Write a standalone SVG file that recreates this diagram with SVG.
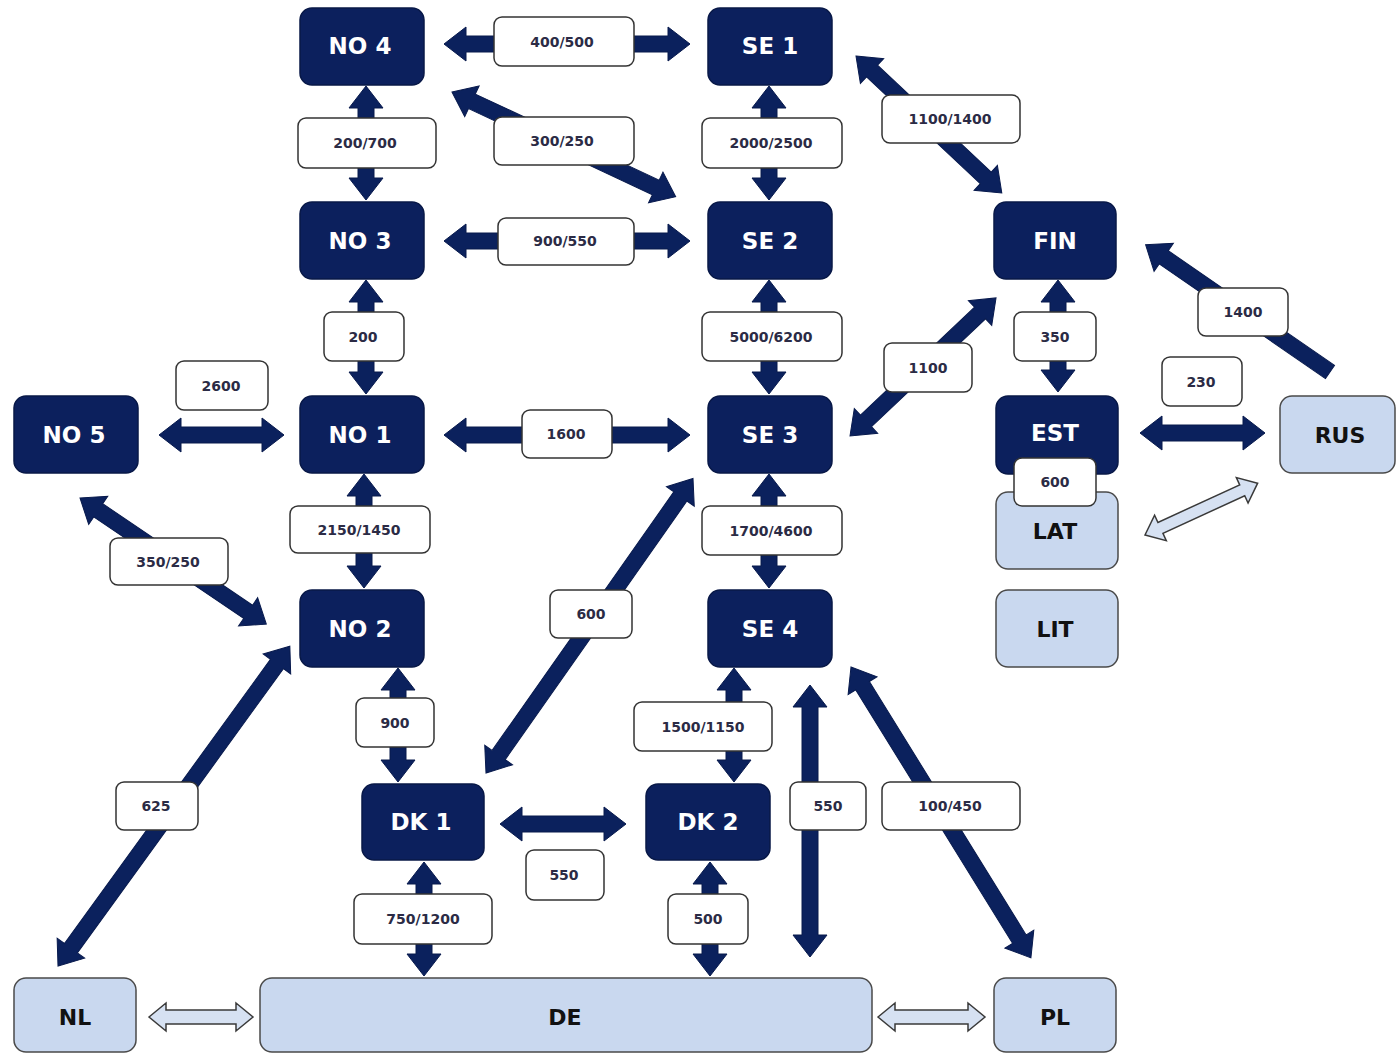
<svg xmlns="http://www.w3.org/2000/svg" width="1396" height="1053" viewBox="0 0 1396 1053">
<style>
.dn{fill:#0c205d;stroke:#081847;stroke-width:1.5}
.ln{fill:#c9d8ef;stroke:#4a4a4a;stroke-width:1.5}
.dt{font-family:"DejaVu Sans",Verdana,sans-serif;font-weight:bold;font-size:23px;fill:#ffffff;text-anchor:middle}
.lt{font-family:"DejaVu Sans",Verdana,sans-serif;font-weight:bold;font-size:22px;fill:#111111;text-anchor:middle}
.ar{fill:#0b215d;stroke:#081a4d;stroke-width:1}
.la{fill:#d6e1f2;stroke:#3a3a3a;stroke-width:1.5}
.lb{fill:#ffffff;stroke:#333333;stroke-width:1.5}
.lbt{font-family:"DejaVu Sans",Verdana,sans-serif;font-weight:bold;font-size:14px;fill:#2b2b45;text-anchor:middle}
</style>
<rect width="1396" height="1053" fill="#ffffff"/>
<g id="nodes">
<g id="NO4"><rect class="dn" x="300" y="8" width="124" height="77" rx="12"/><text class="dt" x="360" y="54">NO 4</text></g>
<g id="SE1"><rect class="dn" x="708" y="8" width="124" height="77" rx="12"/><text class="dt" x="770" y="54">SE 1</text></g>
<g id="NO3"><rect class="dn" x="300" y="202" width="124" height="77" rx="12"/><text class="dt" x="360" y="249">NO 3</text></g>
<g id="SE2"><rect class="dn" x="708" y="202" width="124" height="77" rx="12"/><text class="dt" x="770" y="249">SE 2</text></g>
<g id="FIN"><rect class="dn" x="994" y="202" width="122" height="77" rx="12"/><text class="dt" x="1055" y="249">FIN</text></g>
<g id="NO5"><rect class="dn" x="14" y="396" width="124" height="77" rx="12"/><text class="dt" x="74" y="443">NO 5</text></g>
<g id="NO1"><rect class="dn" x="300" y="396" width="124" height="77" rx="12"/><text class="dt" x="360" y="443">NO 1</text></g>
<g id="SE3"><rect class="dn" x="708" y="396" width="124" height="77" rx="12"/><text class="dt" x="770" y="443">SE 3</text></g>
<g id="EST"><rect class="dn" x="996" y="396" width="122" height="78" rx="12"/><text class="dt" x="1055" y="441">EST</text></g>
<g id="RUS"><rect class="ln" x="1280" y="396" width="115" height="77" rx="12"/><text class="lt" x="1340" y="443">RUS</text></g>
<g id="LAT"><rect class="ln" x="996" y="492" width="122" height="77" rx="12"/><text class="lt" x="1055" y="539">LAT</text></g>
<g id="LIT"><rect class="ln" x="996" y="590" width="122" height="77" rx="12"/><text class="lt" x="1055" y="637">LIT</text></g>
<g id="NO2"><rect class="dn" x="300" y="590" width="124" height="77" rx="12"/><text class="dt" x="360" y="637">NO 2</text></g>
<g id="SE4"><rect class="dn" x="708" y="590" width="124" height="77" rx="12"/><text class="dt" x="770" y="637">SE 4</text></g>
<g id="DK1"><rect class="dn" x="362" y="784" width="122" height="76" rx="12"/><text class="dt" x="421" y="830">DK 1</text></g>
<g id="DK2"><rect class="dn" x="646" y="784" width="124" height="76" rx="12"/><text class="dt" x="708" y="830">DK 2</text></g>
<g id="NL"><rect class="ln" x="14" y="978" width="122" height="74" rx="12"/><text class="lt" x="75" y="1025">NL</text></g>
<g id="DE"><rect class="ln" x="260" y="978" width="612" height="74" rx="12"/><text class="lt" x="565" y="1025">DE</text></g>
<g id="PL"><rect class="ln" x="994" y="978" width="122" height="74" rx="12"/><text class="lt" x="1055" y="1025">PL</text></g>
</g>
<g id="connectors">
<path class="ar" transform="translate(444,44)" d="M0,0 L22,-17 L22,-8 L224,-8 L224,-17 L246,0 L224,17 L224,8 L22,8 L22,17 Z"/>
<path class="ar" transform="translate(366,86) rotate(90)" d="M0,0 L22,-17 L22,-8 L92,-8 L92,-17 L114,0 L92,17 L92,8 L22,8 L22,17 Z"/>
<path class="ar" transform="translate(769,86) rotate(90)" d="M0,0 L22,-17 L22,-8 L92,-8 L92,-17 L114,0 L92,17 L92,8 L22,8 L22,17 Z"/>
<path class="ar" transform="translate(444,241)" d="M0,0 L22,-17 L22,-8 L224,-8 L224,-17 L246,0 L224,17 L224,8 L22,8 L22,17 Z"/>
<path class="ar" transform="translate(366,280) rotate(90)" d="M0,0 L22,-17 L22,-8 L92,-8 L92,-17 L114,0 L92,17 L92,8 L22,8 L22,17 Z"/>
<path class="ar" transform="translate(769,280) rotate(90)" d="M0,0 L22,-17 L22,-8 L92,-8 L92,-17 L114,0 L92,17 L92,8 L22,8 L22,17 Z"/>
<path class="ar" transform="translate(1058,280) rotate(90)" d="M0,0 L22,-17 L22,-8 L90,-8 L90,-17 L112,0 L90,17 L90,8 L22,8 L22,17 Z"/>
<path class="ar" transform="translate(159,435)" d="M0,0 L22,-17 L22,-8 L103,-8 L103,-17 L125,0 L103,17 L103,8 L22,8 L22,17 Z"/>
<path class="ar" transform="translate(444,435)" d="M0,0 L22,-17 L22,-8 L224,-8 L224,-17 L246,0 L224,17 L224,8 L22,8 L22,17 Z"/>
<path class="ar" transform="translate(1140,433)" d="M0,0 L22,-17 L22,-8 L103,-8 L103,-17 L125,0 L103,17 L103,8 L22,8 L22,17 Z"/>
<path class="ar" transform="translate(364,474) rotate(90)" d="M0,0 L22,-17 L22,-8 L92,-8 L92,-17 L114,0 L92,17 L92,8 L22,8 L22,17 Z"/>
<path class="ar" transform="translate(769,474) rotate(90)" d="M0,0 L22,-17 L22,-8 L92,-8 L92,-17 L114,0 L92,17 L92,8 L22,8 L22,17 Z"/>
<path class="ar" transform="translate(398,668) rotate(90)" d="M0,0 L22,-17 L22,-8 L92,-8 L92,-17 L114,0 L92,17 L92,8 L22,8 L22,17 Z"/>
<path class="ar" transform="translate(734,668) rotate(90)" d="M0,0 L22,-17 L22,-8 L92,-8 L92,-17 L114,0 L92,17 L92,8 L22,8 L22,17 Z"/>
<path class="ar" transform="translate(810,685) rotate(90)" d="M0,0 L22,-17 L22,-8 L250,-8 L250,-17 L272,0 L250,17 L250,8 L22,8 L22,17 Z"/>
<path class="ar" transform="translate(500,824)" d="M0,0 L22,-17 L22,-8 L104,-8 L104,-17 L126,0 L104,17 L104,8 L22,8 L22,17 Z"/>
<path class="ar" transform="translate(424,862) rotate(90)" d="M0,0 L22,-17 L22,-8 L92,-8 L92,-17 L114,0 L92,17 L92,8 L22,8 L22,17 Z"/>
<path class="ar" transform="translate(710,862) rotate(90)" d="M0,0 L22,-17 L22,-8 L92,-8 L92,-17 L114,0 L92,17 L92,8 L22,8 L22,17 Z"/>
<path class="ar" transform="translate(452,92) rotate(25.1)" d="M0,0 L22,-17 L22,-8 L225,-8 L225,-17 L247,0 L225,17 L225,8 L22,8 L22,17 Z"/>
<path class="ar" transform="translate(856,56) rotate(43.2)" d="M0,0 L22,-17 L22,-8 L178,-8 L178,-17 L200,0 L178,17 L178,8 L22,8 L22,17 Z"/>
<path class="ar" transform="translate(850,436) rotate(-43.4)" d="M0,0 L22,-17 L22,-8 L179,-8 L179,-17 L201,0 L179,17 L179,8 L22,8 L22,17 Z"/>
<path class="ar" transform="translate(80,498) rotate(34.1)" d="M0,0 L22,-17 L22,-8 L203,-8 L203,-17 L225,0 L203,17 L203,8 L22,8 L22,17 Z"/>
<path class="ar" transform="translate(486,773) rotate(-54.9)" d="M0,0 L22,-17 L22,-8 L338,-8 L338,-17 L360,0 L338,17 L338,8 L22,8 L22,17 Z"/>
<path class="ar" transform="translate(58,966) rotate(-54.06)" d="M0,0 L22,-17 L22,-8 L373,-8 L373,-17 L395,0 L373,17 L373,8 L22,8 L22,17 Z"/>
<path class="ar" transform="translate(851,667) rotate(58.26)" d="M0,0 L22,-17 L22,-8 L320,-8 L320,-17 L342,0 L320,17 L320,8 L22,8 L22,17 Z"/>
<path class="ar" transform="translate(1330,372) rotate(-145.4)" d="M0,-8 L202,-8 L202,-17 L224,0 L202,17 L202,8 L0,8 Z"/>
<path class="la" transform="translate(1145,535) rotate(-24.7)" d="M0,0 L17,-14 L17,-6 L107,-6 L107,-14 L124,0 L107,14 L107,6 L17,6 L17,14 Z"/>
<path class="la" transform="translate(149,1017)" d="M0,0 L17,-14 L17,-7 L87,-7 L87,-14 L104,0 L87,14 L87,7 L17,7 L17,14 Z"/>
<path class="la" transform="translate(878,1017)" d="M0,0 L17,-14 L17,-7 L90,-7 L90,-14 L107,0 L90,14 L90,7 L17,7 L17,14 Z"/>
<g id="labels">
<rect class="lb" x="494" y="17" width="140" height="49" rx="8"/><text class="lbt" x="562" y="47">400/500</text>
<rect class="lb" x="298" y="118" width="138" height="50" rx="8"/><text class="lbt" x="365" y="148">200/700</text>
<rect class="lb" x="494" y="117" width="140" height="48" rx="8"/><text class="lbt" x="562" y="146">300/250</text>
<rect class="lb" x="702" y="118" width="140" height="50" rx="8"/><text class="lbt" x="771" y="148">2000/2500</text>
<rect class="lb" x="882" y="95" width="138" height="48" rx="8"/><text class="lbt" x="950" y="124">1100/1400</text>
<rect class="lb" x="498" y="218" width="136" height="47" rx="8"/><text class="lbt" x="565" y="246">900/550</text>
<rect class="lb" x="324" y="312" width="80" height="49" rx="8"/><text class="lbt" x="363" y="342">200</text>
<rect class="lb" x="702" y="312" width="140" height="49" rx="8"/><text class="lbt" x="771" y="342">5000/6200</text>
<rect class="lb" x="1014" y="312" width="82" height="49" rx="8"/><text class="lbt" x="1055" y="342">350</text>
<rect class="lb" x="1198" y="288" width="90" height="48" rx="8"/><text class="lbt" x="1243" y="317">1400</text>
<rect class="lb" x="176" y="361" width="92" height="49" rx="8"/><text class="lbt" x="221" y="391">2600</text>
<rect class="lb" x="884" y="343" width="88" height="49" rx="8"/><text class="lbt" x="928" y="373">1100</text>
<rect class="lb" x="1162" y="357" width="80" height="49" rx="8"/><text class="lbt" x="1201" y="387">230</text>
<rect class="lb" x="522" y="410" width="90" height="48" rx="8"/><text class="lbt" x="566" y="439">1600</text>
<rect class="lb" x="1014" y="458" width="82" height="48" rx="8"/><text class="lbt" x="1055" y="487">600</text>
<rect class="lb" x="290" y="506" width="140" height="47" rx="8"/><text class="lbt" x="359" y="535">2150/1450</text>
<rect class="lb" x="702" y="506" width="140" height="49" rx="8"/><text class="lbt" x="771" y="536">1700/4600</text>
<rect class="lb" x="110" y="538" width="118" height="47" rx="8"/><text class="lbt" x="168" y="567">350/250</text>
<rect class="lb" x="550" y="590" width="82" height="48" rx="8"/><text class="lbt" x="591" y="619">600</text>
<rect class="lb" x="356" y="698" width="78" height="49" rx="8"/><text class="lbt" x="395" y="728">900</text>
<rect class="lb" x="634" y="702" width="138" height="49" rx="8"/><text class="lbt" x="703" y="732">1500/1150</text>
<rect class="lb" x="116" y="782" width="82" height="48" rx="8"/><text class="lbt" x="156" y="811">625</text>
<rect class="lb" x="790" y="782" width="76" height="48" rx="8"/><text class="lbt" x="828" y="811">550</text>
<rect class="lb" x="882" y="782" width="138" height="48" rx="8"/><text class="lbt" x="950" y="811">100/450</text>
<rect class="lb" x="526" y="850" width="78" height="50" rx="8"/><text class="lbt" x="564" y="880">550</text>
<rect class="lb" x="354" y="894" width="138" height="50" rx="8"/><text class="lbt" x="423" y="924">750/1200</text>
<rect class="lb" x="668" y="894" width="80" height="50" rx="8"/><text class="lbt" x="708" y="924">500</text>
</g>
</g>
</svg>
